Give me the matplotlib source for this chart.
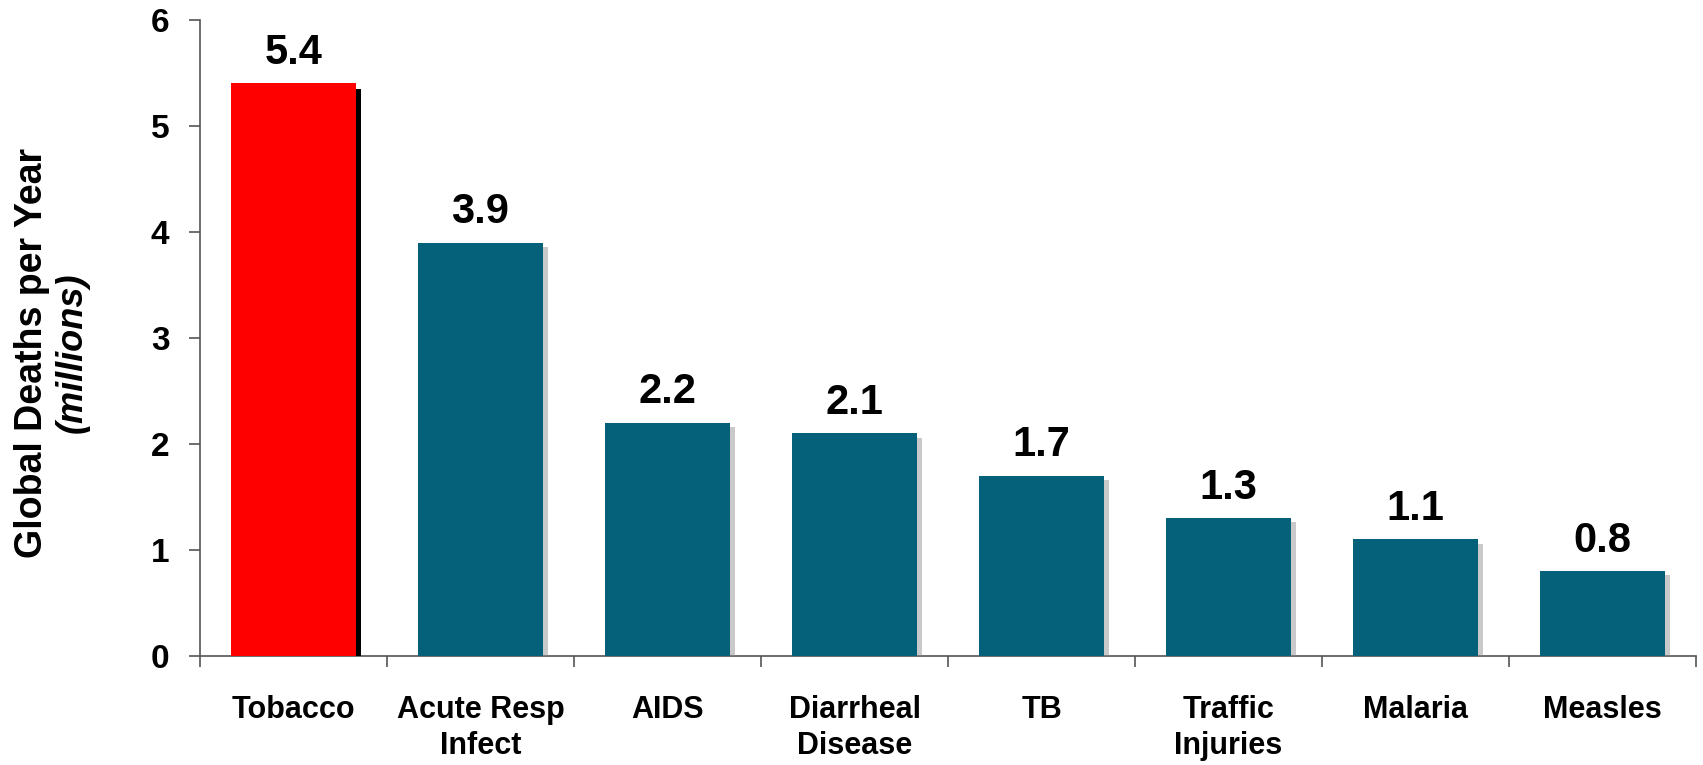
import matplotlib.pyplot as plt
import matplotlib.patheffects as pe
import numpy as np

plt.rcParams['font.family'] = ['Liberation Sans', 'DejaVu Sans']
plt.rcParams['font.weight'] = 'bold'

categories = ["Tobacco", "Acute Resp\nInfect", "AIDS", "Diarrheal\nDisease",
              "TB", "Traffic\nInjuries", "Malaria", "Measles"]
deaths = [5.4, 3.9, 2.2, 2.1, 1.7, 1.3, 1.1, 0.8]
value_labels = ["5.4", "3.9", "2.2", "2.1", "1.7", "1.3", "1.1", "0.8"]

teal = "#05607A"
colors = ["#FF0000"] + [teal] * 7

fig = plt.figure(figsize=(17.03, 7.65), dpi=100)
ax = fig.add_axes([0.1174, 0.1425, 0.8786, 0.8315])

x = np.arange(len(categories))
bars = ax.bar(x, deaths, width=0.67, color=colors, zorder=3)
for i, b in enumerate(bars):
    if i == 0:
        b.set_path_effects([pe.SimplePatchShadow(offset=(3.5, -4), shadow_rgbFace='black', alpha=1.0), pe.Normal()])
    else:
        b.set_path_effects([pe.SimplePatchShadow(offset=(3.5, -3), shadow_rgbFace='#888888', alpha=0.45), pe.Normal()])

for xi, v, lab in zip(x, deaths, value_labels):
    ax.text(xi, v + 0.1, lab, ha='center', va='bottom', fontsize=30, fontweight='bold')

ax.set_xlim(-0.5, len(categories) - 0.5)
ax.set_ylim(0, 6)
ax.set_yticks(range(7))
ax.tick_params(axis='y', labelsize=24, length=8, width=1.2, direction='out', pad=14, color='#555555')

ax.set_xticks(x)
ax.set_xticklabels(categories, fontsize=22, fontweight='bold', linespacing=1.25, va='top')
ax.set_xticks(np.arange(-0.5, len(categories) + 0.5, 1), minor=True)
ax.tick_params(axis='x', which='major', length=0, pad=28)
ax.tick_params(axis='x', which='minor', length=8, width=1.2, direction='out', color='#555555')

for s in ['top', 'right']:
    ax.spines[s].set_visible(False)
for s in ['left', 'bottom']:
    ax.spines[s].set_color('#555555')
    ax.spines[s].set_linewidth(1.2)

ax.text(-0.1125, 0.477, "Global Deaths per Year", transform=ax.transAxes, rotation=90,
        ha='center', va='center', fontsize=27, fontweight='bold')
ax.text(-0.0855, 0.477, "(millions)", transform=ax.transAxes, rotation=90,
        ha='center', va='center', fontsize=26, fontweight='bold', style='italic')

fig.savefig("out.png", dpi=100)
